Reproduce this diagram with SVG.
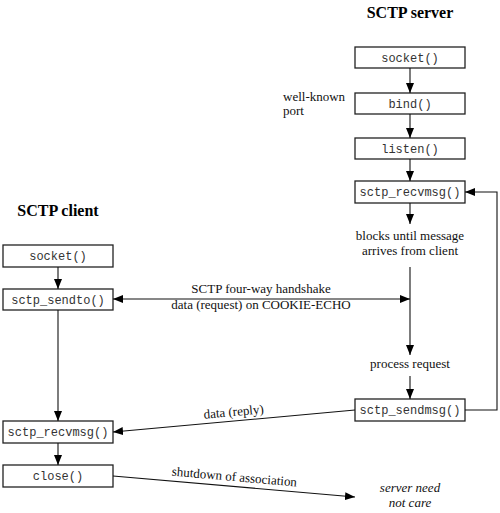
<svg xmlns="http://www.w3.org/2000/svg" width="500" height="513" viewBox="0 0 500 513">
<style>
.box{fill:#fff;stroke:#222;stroke-width:1.3}
.fn{font-family:"Liberation Mono",monospace;font-size:12px;fill:#333;text-anchor:middle}
.lbl{font-family:"Liberation Serif",serif;font-size:13px;fill:#111}
.ttl{font-family:"Liberation Serif",serif;font-size:16px;font-weight:bold;fill:#000;text-anchor:middle}
.ln{stroke:#111;stroke-width:1.1;fill:none}
</style>
<defs>
<marker id="ah" viewBox="0 0 10 8" refX="10" refY="4" markerWidth="10" markerHeight="8" markerUnits="userSpaceOnUse" orient="auto-start-reverse">
<path d="M0,0 L10,4 L0,8 z" fill="#000"/>
</marker>
</defs>
<rect width="500" height="513" fill="#fff"/>
<text class="ttl" x="410" y="18">SCTP server</text>
<text class="ttl" x="58" y="216">SCTP client</text>
<g id="s_socket"><rect class="box" x="355" y="47" width="110" height="21"/><text class="fn" x="410" y="62">socket()</text></g>
<g id="s_bind"><rect class="box" x="355" y="93" width="110" height="21"/><text class="fn" x="410" y="108">bind()</text></g>
<g id="s_listen"><rect class="box" x="355" y="138" width="110" height="21"/><text class="fn" x="410" y="153">listen()</text></g>
<g id="s_recv"><rect class="box" x="355" y="181" width="110" height="22"/><text class="fn" x="410" y="196">sctp_recvmsg()</text></g>
<g id="s_send"><rect class="box" x="355" y="399" width="110" height="22"/><text class="fn" x="410" y="414">sctp_sendmsg()</text></g>
<g id="c_socket"><rect class="box" x="3" y="245" width="110" height="22"/><text class="fn" x="58" y="260">socket()</text></g>
<g id="c_sendto"><rect class="box" x="3" y="289" width="110" height="21"/><text class="fn" x="58" y="304">sctp_sendto()</text></g>
<g id="c_recv"><rect class="box" x="3" y="421" width="110" height="22"/><text class="fn" x="58" y="436">sctp_recvmsg()</text></g>
<g id="c_close"><rect class="box" x="3" y="465" width="110" height="22"/><text class="fn" x="58" y="480">close()</text></g>
<g id="labels">
<text class="lbl" x="283" y="101">well-known</text>
<text class="lbl" x="283" y="115">port</text>
<text class="lbl" x="410" y="240" text-anchor="middle">blocks until message</text>
<text class="lbl" x="410" y="255" text-anchor="middle">arrives from client</text>
<text class="lbl" x="410" y="368" text-anchor="middle">process request</text>
<text class="lbl" x="261" y="293" text-anchor="middle">SCTP four-way handshake</text>
<text class="lbl" x="261" y="309" text-anchor="middle">data (request) on COOKIE-ECHO</text>
<text class="lbl" x="234" y="416" text-anchor="middle" transform="rotate(-5.2 234 416)">data (reply)</text>
<text class="lbl" x="234" y="481" text-anchor="middle" transform="rotate(5 234 481)">shutdown of association</text>
<text class="lbl" x="410" y="492" text-anchor="middle" font-style="italic">server need</text>
<text class="lbl" x="410" y="507" text-anchor="middle" font-style="italic">not care</text>
</g>
<g id="connectors">
<line class="ln" x1="410" y1="68" x2="410" y2="93" marker-end="url(#ah)"/>
<line class="ln" x1="410" y1="114" x2="410" y2="138" marker-end="url(#ah)"/>
<line class="ln" x1="410" y1="159" x2="410" y2="181" marker-end="url(#ah)"/>
<line class="ln" x1="410" y1="203" x2="410" y2="224" marker-end="url(#ah)"/>
<line class="ln" x1="410" y1="267" x2="410" y2="355" marker-end="url(#ah)"/>
<line class="ln" x1="410" y1="376" x2="410" y2="399" marker-end="url(#ah)"/>
<polyline class="ln" points="465,410 497,410 497,192 465,192" marker-end="url(#ah)"/>
<line class="ln" x1="113" y1="299" x2="410" y2="299" marker-start="url(#ah)" marker-end="url(#ah)"/>
<line class="ln" x1="58" y1="267" x2="58" y2="289" marker-end="url(#ah)"/>
<line class="ln" x1="58" y1="310" x2="58" y2="421" marker-end="url(#ah)"/>
<line class="ln" x1="58" y1="443" x2="58" y2="465" marker-end="url(#ah)"/>
<line class="ln" x1="355" y1="410" x2="113" y2="432" marker-end="url(#ah)"/>
<line class="ln" x1="113" y1="476" x2="355" y2="497" marker-end="url(#ah)"/>
</g>
</svg>
